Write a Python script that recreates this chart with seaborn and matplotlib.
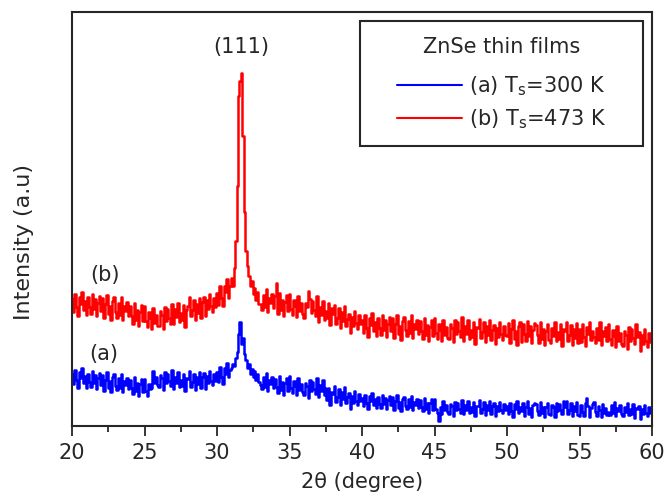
import numpy as np
import pandas as pd
import matplotlib
matplotlib.use("Agg")
import matplotlib.pyplot as plt
import seaborn as sns
from matplotlib.lines import Line2D

# 2-theta range (degrees), 0.1 deg step
theta_start, theta_end = 20.0, 60.0

# (b) Ts = 473 K  (intensity, a.u.)
red_counts = [
    127,114,132,119,110,129,122,134,116,125,
    111,129,119,112,132,117,127,110,123,130,
    115,128,108,122,131,112,120,106,125,129,
    114,108,123,111,129,106,120,115,124,110,
    120,110,102,123,106,116,100,114,121,105,
    120,105,99,114,108,97,118,103,111,100,
    100,115,111,97,119,105,117,108,102,122,
    102,117,109,123,104,113,106,121,99,116,
    120,129,110,116,126,106,122,113,128,108,
    124,129,110,126,117,132,120,114,128,119,
    133,121,140,128,120,140,134,147,128,140,
    148,140,158,185,240,330,345,353,290,214,
    175,160,150,140,145,132,138,126,134,122,
    122,116,131,119,137,114,128,123,132,118,
    130,143,112,133,116,126,110,124,131,115,
    132,117,111,126,120,109,130,115,123,112,
    108,123,119,135,127,113,125,116,110,130,
    104,119,111,125,106,115,108,123,101,118,
    112,121,102,108,118,98,114,105,120,100,
    107,112,93,109,100,115,103,97,111,102,
    106,93,111,98,89,108,101,113,95,104,
    90,108,98,91,111,96,106,89,102,109,
    95,108,88,102,111,92,100,86,105,109,
    96,90,105,93,111,88,102,97,106,92,
    105,95,87,108,91,101,85,99,106,90,
    108,93,87,102,96,85,106,91,99,88,
    87,102,98,84,106,92,104,95,89,109,
    85,100,92,106,87,96,89,104,82,99,
    98,107,88,94,104,84,100,91,106,86,
    96,101,82,98,89,104,92,86,100,91,
    90,103,83,97,106,87,95,81,100,104,
    84,102,92,85,105,90,100,83,96,103,
    101,91,83,104,87,97,81,95,102,86,
    83,98,90,104,85,94,87,102,80,97,
    95,104,85,91,101,81,97,88,103,83,
    97,84,102,89,80,99,92,104,86,95,
    89,83,98,86,104,81,95,90,99,85,
    102,87,81,96,90,79,100,85,93,82,
    80,95,91,77,99,85,97,88,82,102,
    89,94,75,91,82,97,85,79,93,84,
    88,
]

# (a) Ts = 300 K  (intensity, a.u.)
blue_counts = [
    52,42,56,46,38,54,48,58,43,50,
    38,52,44,39,55,43,51,37,48,53,
    41,51,35,46,54,38,45,34,49,52,
    40,36,48,38,52,34,45,41,48,37,
    46,38,32,49,35,43,30,42,47,34,
    47,35,30,42,37,38,55,43,49,41,
    39,51,48,36,54,43,52,45,40,56,
    37,49,43,54,39,46,40,52,35,48,
    47,55,39,44,52,36,49,42,54,38,
    49,53,37,50,43,55,45,41,52,45,
    54,44,59,49,42,58,52,63,49,56,
    58,62,60,68,74,92,104,82,88,72,
    66,58,62,52,57,49,55,46,52,44,
    41,37,49,39,53,35,46,42,49,38,
    47,39,33,50,36,44,31,43,48,35,
    50,38,33,45,40,31,48,36,42,34,
    31,43,40,28,46,35,44,37,32,48,
    29,41,35,46,31,38,26,38,21,34,
    32,40,24,29,37,21,34,27,39,23,
    29,33,17,30,23,35,25,21,32,25,
    28,20,31,23,17,30,25,33,21,27,
    18,29,22,18,31,22,28,17,26,30,
    21,29,16,25,31,18,24,15,27,29,
    20,17,27,19,30,16,24,21,27,18,
    26,19,15,28,17,23,13,23,27,16,
    27,17,13,5,19,12,25,16,21,14,
    12,22,20,10,24,16,23,17,13,26,
    12,21,16,25,13,19,14,24,10,20,
    20,26,13,17,24,11,21,16,25,12,
    20,23,10,20,15,24,16,13,22,16,
    20,12,23,15,9,22,17,25,13,19,
    15,23,10,19,25,12,18,9,21,23,
    22,15,11,24,13,19,9,19,23,12,
    11,21,19,9,23,15,22,16,12,25,
    19,25,12,16,23,10,20,15,24,11,
    10,21,14,10,23,28,20,9,18,22,
    24,14,10,20,16,9,22,13,18,11,
    14,11,21,13,24,10,18,15,21,12,
    10,19,14,23,11,17,12,22,8,18,
    17,20,7,17,12,21,13,10,19,13,
    16,
]

series_labels = ["(a) T$_{\\mathrm{s}}$=300 K", "(b) T$_{\\mathrm{s}}$=473 K"]
series_colors = ["#0000ff", "#ff0000"]
legend_title = "ZnSe thin films"

theta_a = np.linspace(theta_start, theta_end, len(blue_counts))
theta_b = np.linspace(theta_start, theta_end, len(red_counts))
df = pd.concat([
    pd.DataFrame({"theta": theta_a, "I": blue_counts, "s": series_labels[0]}),
    pd.DataFrame({"theta": theta_b, "I": red_counts, "s": series_labels[1]}),
], ignore_index=True)

sns.set_style("ticks")
plt.rcParams["font.family"] = ["DejaVu Sans"]
plt.rcParams["mathtext.fontset"] = "dejavusans"

TXT = "#262626"
FS = 15

fig = plt.figure(figsize=(6.64, 4.94), dpi=100)
ax = fig.add_axes([72/664, (494-426)/494, 580/664, 414/494])

sns.lineplot(data=df, x="theta", y="I", hue="s", hue_order=series_labels,
             palette=dict(zip(series_labels, series_colors)),
             linewidth=1.8, ax=ax, legend=False, estimator=None, sort=False,
             drawstyle="steps-mid")

ax.set_xlim(20, 60)
ax.set_ylim(0, 414)
ax.set_xticks(np.arange(20, 61, 5))
ax.set_xticks(np.arange(22.5, 60, 5), minor=True)
ax.set_yticks([])
ax.tick_params(axis="x", which="major", direction="out", length=7, width=1.3,
               labelsize=FS, pad=5.5, colors=TXT)
ax.tick_params(axis="x", which="minor", direction="out", length=4.5, width=1.3,
               colors=TXT)
for sp in ax.spines.values():
    sp.set_visible(True)
    sp.set_linewidth(1.5)
    sp.set_color(TXT)

ax.set_xlabel("2θ (degree)", fontsize=FS, labelpad=6.5, color=TXT)
ax.set_ylabel("Intensity (a.u)", fontsize=16, color=TXT)
ax.yaxis.set_label_coords(-0.066, 0.444)

ax.text(31.7, 379, "(111)", ha="center", va="center", fontsize=FS, color=TXT)
ax.text(22.25, 151, "(b)", ha="center", va="center", fontsize=FS, color=TXT)
ax.text(22.2, 72, "(a)", ha="center", va="center", fontsize=FS, color=TXT)

handles = [Line2D([0], [0], color=c, lw=1.5) for c in series_colors]
leg = ax.legend(handles, series_labels, title=legend_title,
                loc="upper left", bbox_to_anchor=(0.4966, 0.978, 0.488, 0.0),
                mode="expand",
                fontsize=FS, title_fontsize=FS, frameon=True, fancybox=False,
                handlelength=3.1, handletextpad=0.35, borderpad=0.75,
                labelspacing=0.42, borderaxespad=0.0)
leg._legend_box.sep = 13
leg._legend_handle_box.mode = "fixed"
fr = leg.get_frame()
fr.set_edgecolor(TXT)
fr.set_linewidth(1.5)
fr.set_alpha(1)
leg.get_title().set_color(TXT)
for t in leg.get_texts():
    t.set_color(TXT)

fig.savefig("out.png", dpi=100)
